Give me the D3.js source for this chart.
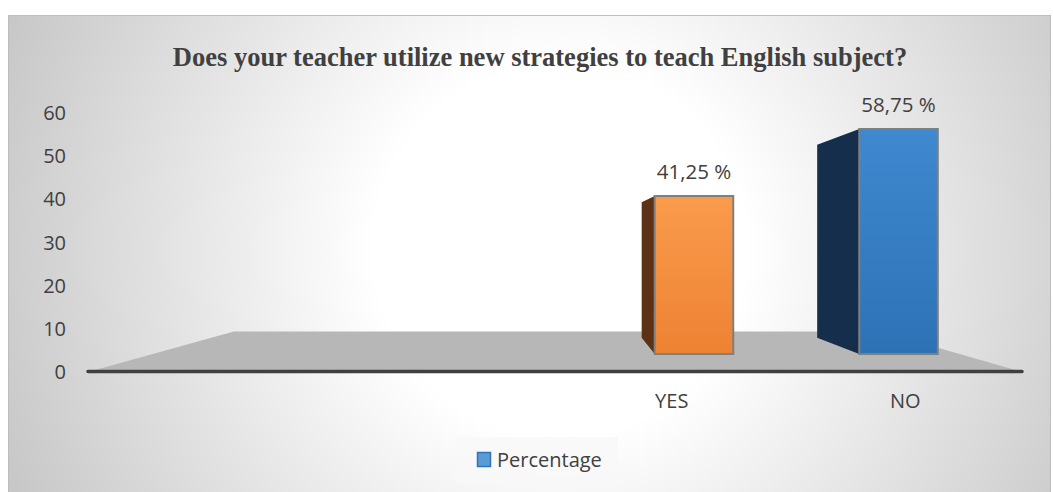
<!DOCTYPE html>
<html>
<head>
<meta charset="utf-8">
<script src="https://cdn.jsdelivr.net/npm/d3@7"></script>
<style>
  body { margin: 0; background: #fff; }
  svg { display: block; }
</style>
</head>
<body>
<div id="chart"></div>
<script>
// chart data
var title = "Does your teacher utilize new strategies to teach English subject?";
var categories = ["", "", "YES", "NO"];
var values = [null, null, 41.25, 58.75];
var seriesName = "Percentage";
var yTicks = [0, 10, 20, 30, 40, 50, 60];

var width = 1053,
  height = 492;

var svg = d3.select("#chart").append("svg")
  .attr("width", width)
  .attr("height", height);

var defs = svg.append("defs");

var bg = defs.append("radialGradient")
  .attr("id", "bg")
  .attr("gradientUnits", "userSpaceOnUse")
  .attr("cx", 560).attr("cy", 250).attr("r", 620);
bg.append("stop").attr("offset", 0).attr("stop-color", "#ffffff");
bg.append("stop").attr("offset", 0.3).attr("stop-color", "#ffffff");
bg.append("stop").attr("offset", 1).attr("stop-color", "#c4c4c4");

var fronts = [["#fa9b4c", "#ee8233"], ["#3f89d0", "#2d72b5"]];
var sides = ["#5d3116", "#142e4c"];
fronts.forEach(function(c, i) {
  var g = defs.append("linearGradient")
    .attr("id", "front" + i)
    .attr("x1", 0).attr("y1", 0).attr("x2", 0).attr("y2", 1);
  g.append("stop").attr("offset", 0).attr("stop-color", c[0]);
  g.append("stop").attr("offset", 1).attr("stop-color", c[1]);
});

// frame
svg.append("rect")
  .attr("x", 8.5).attr("y", 15.5)
  .attr("width", 1042).attr("height", 490)
  .style("fill", "url(#bg)")
  .style("stroke", "#bdbdbd");

// scales
var x = d3.scaleBand()
  .domain(d3.range(categories.length))
  .range([88, 1022])
  .paddingInner(0.616)
  .paddingOuter(0.308);

var yAxis = d3.scaleLinear().domain([0, 60]).range([372, 113]);
var yBar = d3.scaleLinear().domain([0, 60]).range([354, 124.2]);
var xFront = d3.scaleLinear().domain([88, 1022]).range([182.6, 1000.8]);

// perspective: vanishing point and depth factors
var vp = [563, 240];
function toward(p, k) {
  return [vp[0] + (p[0] - vp[0]) * k, vp[1] + (p[1] - vp[1]) * k];
}

// floor
var x0 = x.range()[0], x1 = x.range()[1], y0 = yAxis(0);
var floor = [[x0, y0], [x1, y0], toward([x1, y0], 0.693), toward([x0, y0], 0.693)];
svg.append("polygon")
  .attr("points", floor.map(function(p) { return p.join(","); }).join(" "))
  .style("fill", "#b7b7b7");

svg.append("line")
  .attr("x1", x0).attr("x2", x1)
  .attr("y1", y0 - 0.5).attr("y2", y0 - 0.5)
  .style("stroke", "#404040")
  .style("stroke-width", 3.5)
  .style("stroke-linecap", "round");

// bars
var bars = d3.range(categories.length).filter(function(i) { return values[i] != null; });

var bar = svg.append("g").selectAll(".bar")
  .data(bars)
  .enter().append("g")
  .attr("class", "bar");

bar.append("polygon")
  .attr("points", function(i, j) {
    var l = xFront(x(i)), t = yBar(values[i]), b = yBar(0);
    var pts = [[l, t], toward([l, t], 0.858), toward([l, b], 0.858), [l, b]];
    return pts.map(function(p) { return p.join(","); }).join(" ");
  })
  .style("fill", function(i, j) { return sides[j]; });

bar.append("rect")
  .attr("x", function(i) { return xFront(x(i)); })
  .attr("y", function(i) { return yBar(values[i]); })
  .attr("width", function(i) { return xFront(x(i) + x.bandwidth()) - xFront(x(i)); })
  .attr("height", function(i) { return yBar(0) - yBar(values[i]); })
  .style("fill", function(i, j) { return "url(#front" + j + ")"; })
  .style("stroke", "#7f7f7f")
  .style("stroke-width", 2);

bar.append("text")
  .attr("x", function(i) { return xFront(x(i) + x.bandwidth() / 2); })
  .attr("y", function(i) { return yBar(values[i]) - 24; })
  .attr("dy", ".35em")
  .attr("text-anchor", "middle")
  .style("font-family", "'Open Sans', sans-serif")
  .style("font-size", "20.5px")
  .style("fill", "#404040")
  .text(function(i) { return d3.format(".2f")(values[i]).replace(".", ",") + " %"; });

// value axis labels
svg.append("g").selectAll("text")
  .data(yTicks)
  .enter().append("text")
  .attr("x", 66)
  .attr("y", function(d) { return yAxis(d); })
  .attr("dy", ".35em")
  .attr("text-anchor", "end")
  .style("font-family", "'Open Sans', sans-serif")
  .style("font-size", "20px")
  .style("fill", "#404040")
  .text(function(d) { return d; });

// category labels
svg.append("g").selectAll("text")
  .data(categories)
  .enter().append("text")
  .attr("x", function(d, i) { return x(i) + x.bandwidth() / 2; })
  .attr("y", 401)
  .attr("dy", ".35em")
  .attr("text-anchor", "middle")
  .style("font-family", "'Open Sans', sans-serif")
  .style("font-size", "20px")
  .style("fill", "#404040")
  .text(function(d) { return d; });

// legend
var legend = svg.append("g").attr("transform", "translate(455,437)");
legend.append("rect")
  .attr("width", 163).attr("height", 46)
  .style("fill", "#f8f8f8")
  .style("fill-opacity", 0.85);
legend.append("rect")
  .attr("x", 22.5).attr("y", 15.5)
  .attr("width", 13).attr("height", 14)
  .style("fill", "#5b9bd5")
  .style("stroke", "#2e75b6")
  .style("stroke-width", 1.5);
legend.append("text")
  .attr("x", 42).attr("y", 23)
  .attr("dy", ".35em")
  .style("font-family", "'Open Sans', sans-serif")
  .style("font-size", "20px")
  .style("fill", "#404040")
  .text(seriesName);

// title
svg.append("text")
  .attr("x", 540)
  .attr("y", 66)
  .attr("text-anchor", "middle")
  .style("font-family", "'Liberation Serif', 'Times New Roman', serif")
  .style("font-weight", "bold")
  .style("font-size", "26.5px")
  .style("fill", "#404040")
  .text(title);
</script>
</body>
</html>
